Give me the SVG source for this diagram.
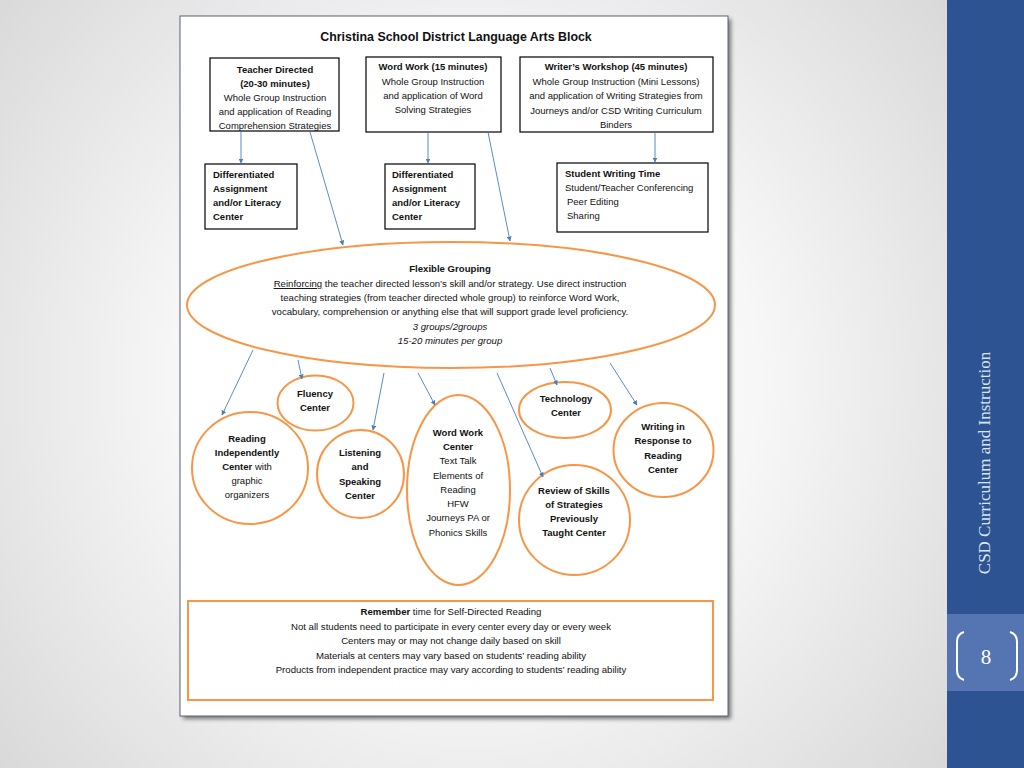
<svg xmlns="http://www.w3.org/2000/svg" width="1024" height="768" viewBox="0 0 1024 768">
<defs>
<radialGradient id="bg" cx="470" cy="380" r="640" gradientUnits="userSpaceOnUse">
<stop offset="0" stop-color="#ffffff"/>
<stop offset="0.45" stop-color="#f7f7f7"/>
<stop offset="1" stop-color="#d6d6d6"/>
</radialGradient>
<filter id="sh" x="-5%" y="-5%" width="110%" height="110%">
<feGaussianBlur stdDeviation="2"/>
</filter>
<marker id="ah" viewBox="0 0 10 10" refX="9" refY="5" markerWidth="5" markerHeight="5" markerUnits="userSpaceOnUse" orient="auto">
<path d="M0,0 L10,5 L0,10 z" fill="#4a7ebb"/>
</marker>
<style>
text{font-family:"Liberation Sans",Arial,sans-serif;fill:#111;}
.t{font-size:9.5px;text-anchor:middle;}
.tl{font-size:9.5px;}
.b{font-weight:bold;}
.e{font-size:9.6px;text-anchor:middle;}
.box{fill:#fff;stroke:#000;stroke-width:1.2;}
.orc{fill:#fff;stroke:#f79646;stroke-width:2;}
.con line{stroke:#4a7ebb;stroke-width:0.9;marker-end:url(#ah);}
</style>
</defs>
<rect x="0" y="0" width="1024" height="768" fill="url(#bg)"/>
<!-- sidebar -->
<rect x="947" y="0" width="77" height="768" fill="#2d5392"/>
<rect x="947" y="614" width="77" height="77" fill="#5574b2"/>
<text x="0" y="0" transform="translate(990,463) rotate(-90)" style="font-family:'Liberation Serif','Times New Roman',serif;font-size:17px;fill:#dce3f1;text-anchor:middle">CSD Curriculum and Instruction</text>
<text x="986" y="664" style="font-family:'Liberation Serif','Times New Roman',serif;font-size:21px;fill:#ffffff;text-anchor:middle">8</text>
<path d="M964,632 Q957,634 957,642 L957,670 Q957,678 964,680" fill="none" stroke="#ffffff" stroke-width="2"/>
<path d="M1010,632 Q1017,634 1017,642 L1017,670 Q1017,678 1010,680" fill="none" stroke="#ffffff" stroke-width="2"/>
<!-- page -->
<rect x="183" y="19" width="548" height="700" fill="#777" filter="url(#sh)"/>
<rect x="180" y="16" width="548" height="700" fill="#ffffff" stroke="#5b6278" stroke-width="1"/>
<text x="456" y="41" style="font-size:12.4px;font-weight:bold;text-anchor:middle">Christina School District Language Arts Block</text>

<g id="teacher-directed">
<rect class="box" x="210" y="58" width="129" height="73"/>
<text class="t b" x="275" y="73">Teacher Directed</text>
<text class="t b" x="275" y="87">(20-30 minutes)</text>
<text class="t" x="275" y="101">Whole Group Instruction</text>
<text class="t" x="275" y="115">and application of Reading</text>
<text class="t" x="275" y="129">Comprehension Strategies</text>
</g>
<g id="word-work">
<rect class="box" x="366" y="57" width="135" height="75"/>
<text class="t b" x="433" y="70">Word Work (15 minutes)</text>
<text class="t" x="433" y="85">Whole Group Instruction</text>
<text class="t" x="433" y="99">and application of Word</text>
<text class="t" x="433" y="113">Solving Strategies</text>
</g>
<g id="writers-workshop">
<rect class="box" x="520" y="57" width="193" height="75"/>
<text class="t b" x="616" y="70">Writer’s Workshop (45 minutes)</text>
<text class="t" x="616" y="85">Whole Group Instruction (Mini Lessons)</text>
<text class="t" x="616" y="99">and application of Writing Strategies from</text>
<text class="t" x="616" y="114">Journeys and/or CSD Writing Curriculum</text>
<text class="t" x="616" y="128">Binders</text>
</g>
<g id="diff-1">
<rect class="box" x="205" y="164" width="92" height="65"/>
<text class="tl b" x="213" y="178">Differentiated</text>
<text class="tl b" x="213" y="192">Assignment</text>
<text class="tl b" x="213" y="206">and/or Literacy</text>
<text class="tl b" x="213" y="220">Center</text>
</g>
<g id="diff-2">
<rect class="box" x="385" y="164" width="90" height="65"/>
<text class="tl b" x="392" y="178">Differentiated</text>
<text class="tl b" x="392" y="192">Assignment</text>
<text class="tl b" x="392" y="206">and/or Literacy</text>
<text class="tl b" x="392" y="220">Center</text>
</g>
<g id="student-writing">
<rect class="box" x="557" y="163" width="151" height="69"/>
<text class="tl b" x="565" y="177">Student Writing Time</text>
<text class="tl" x="565" y="191">Student/Teacher Conferencing</text>
<text class="tl" x="567" y="205">Peer Editing</text>
<text class="tl" x="567" y="219">Sharing</text>
</g>
<g id="flexible-grouping">
<ellipse class="orc" cx="451" cy="305" rx="264" ry="63"/>
<text class="e b" x="450" y="272">Flexible Grouping</text>
<text class="e" x="450" y="287"><tspan text-decoration="underline">Reinforcing</tspan> the teacher directed lesson’s skill and/or strategy. Use direct instruction</text>
<text class="e" x="450" y="301">teaching strategies (from teacher directed whole group) to reinforce Word Work,</text>
<text class="e" x="450" y="315">vocabulary, comprehension or anything else that will support grade level proficiency.</text>
<text class="e" x="450" y="330" font-style="italic">3 groups/2groups</text>
<text class="e" x="450" y="344" font-style="italic">15-20 minutes per group</text>
</g>
<g id="fluency">
<ellipse class="orc" cx="315.5" cy="403" rx="38" ry="27.5"/>
<text class="t b" x="315" y="397">Fluency</text>
<text class="t b" x="315" y="411">Center</text>
</g>
<g id="reading-independently">
<ellipse class="orc" cx="250" cy="468" rx="58" ry="56"/>
<text class="t b" x="247" y="442">Reading</text>
<text class="t b" x="247" y="456">Independently</text>
<text class="t" x="247" y="470"><tspan font-weight="bold">Center</tspan> with</text>
<text class="t" x="247" y="484">graphic</text>
<text class="t" x="247" y="498">organizers</text>
</g>
<g id="listening">
<ellipse class="orc" cx="360.5" cy="474" rx="43.5" ry="44"/>
<text class="t b" x="360" y="456">Listening</text>
<text class="t b" x="360" y="470">and</text>
<text class="t b" x="360" y="485">Speaking</text>
<text class="t b" x="360" y="499">Center</text>
</g>
<g id="word-work-center">
<ellipse class="orc" cx="458.5" cy="490" rx="51.5" ry="95"/>
<text class="t b" x="458" y="436">Word Work</text>
<text class="t b" x="458" y="450">Center</text>
<text class="t" x="458" y="464">Text Talk</text>
<text class="t" x="458" y="479">Elements of</text>
<text class="t" x="458" y="493">Reading</text>
<text class="t" x="458" y="507">HFW</text>
<text class="t" x="458" y="521">Journeys PA or</text>
<text class="t" x="458" y="536">Phonics Skills</text>
</g>
<g id="technology">
<ellipse class="orc" cx="565" cy="410" rx="46" ry="28"/>
<text class="t b" x="566" y="402">Technology</text>
<text class="t b" x="566" y="416">Center</text>
</g>
<g id="writing-response">
<ellipse class="orc" cx="663.5" cy="450" rx="50" ry="47"/>
<text class="t b" x="663" y="430">Writing in</text>
<text class="t b" x="663" y="444">Response to</text>
<text class="t b" x="663" y="459">Reading</text>
<text class="t b" x="663" y="473">Center</text>
</g>
<g id="review">
<ellipse class="orc" cx="574.5" cy="520" rx="55.5" ry="55"/>
<text class="t b" x="574" y="494">Review of Skills</text>
<text class="t b" x="574" y="508">of Strategies</text>
<text class="t b" x="574" y="522">Previously</text>
<text class="t b" x="574" y="536">Taught Center</text>
</g>
<g id="remember">
<rect x="188" y="601" width="525" height="99" fill="#fff" stroke="#f79646" stroke-width="2"/>
<text class="e" x="451" y="615"><tspan font-weight="bold">Remember</tspan> time for Self-Directed Reading</text>
<text class="e" x="451" y="630">Not all students need to participate in every center every day or every week</text>
<text class="e" x="451" y="644">Centers may or may not change daily based on skill</text>
<text class="e" x="451" y="659">Materials at centers may vary based on students’ reading ability</text>
<text class="e" x="451" y="673">Products from independent practice may vary according to students’ reading ability</text>
</g>
<g id="connectors" class="con">
<line x1="241" y1="132" x2="241" y2="163"/>
<line x1="310" y1="132" x2="343" y2="245"/>
<line x1="428" y1="132" x2="428" y2="163"/>
<line x1="488" y1="132" x2="510" y2="241"/>
<line x1="655" y1="132" x2="655" y2="162"/>
<line x1="253" y1="350" x2="222" y2="415"/>
<line x1="298" y1="360" x2="302" y2="379"/>
<line x1="384" y1="373" x2="373" y2="430"/>
<line x1="418" y1="373" x2="435" y2="405"/>
<line x1="497" y1="373" x2="543" y2="477"/>
<line x1="550" y1="368" x2="557" y2="385"/>
<line x1="610" y1="363" x2="637" y2="405"/>
</g>
</svg>
